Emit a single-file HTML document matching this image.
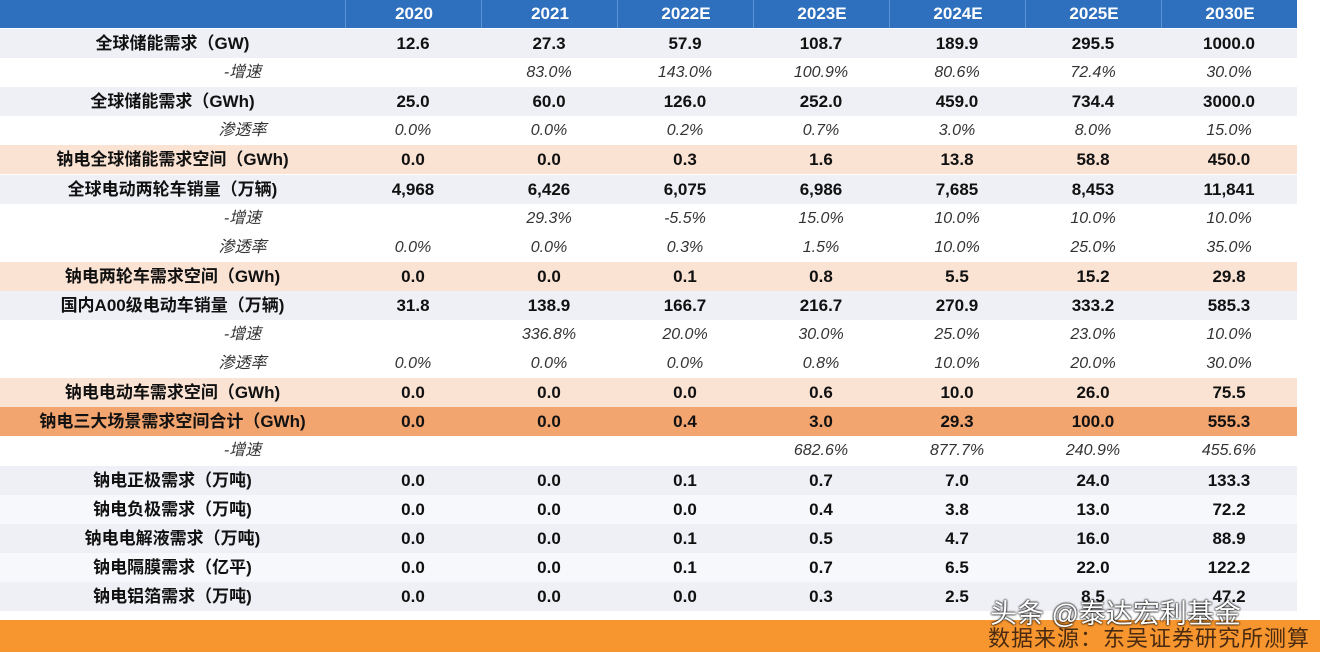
<!DOCTYPE html>
<html><head><meta charset="utf-8">
<style>
body{margin:0;width:1320px;height:654px;background:#fff;overflow:hidden;position:relative;font-family:"Liberation Sans","Noto Sans CJK SC",sans-serif;}
.row{position:absolute;left:0;width:1297px;height:29px;}
.cell{position:absolute;top:0;height:29px;line-height:29px;text-align:center;font-size:17px;color:#111;font-weight:bold;}
.it{font-weight:normal;font-style:italic;color:#333;font-size:16px;}
#hdr{position:absolute;left:0;top:0;width:1297px;height:28px;background:#2e70bd;}
.h{position:absolute;top:0;height:28px;line-height:28px;text-align:center;color:#fff;font-weight:bold;font-size:17px;border-left:1px solid #5b93d3;}
</style></head><body>
<div id="hdr"></div>
<div id="tbl"></div>
<div style="position:absolute;left:0;top:620px;width:1320px;height:32px;background:#f7962f"></div>
<div style="position:absolute;left:988px;top:621px;font-size:22px;color:#4a2a10;letter-spacing:1px">数据来源：东吴证券研究所测算</div>
<div style="position:absolute;left:990px;top:592px;font-size:27px;color:#fff;text-shadow:0 0 2px #000,0 0 2px #000">头条 @泰达宏利基金</div>
<script>
const years=["2020","2021","2022E","2023E","2024E","2025E","2030E"];
const labels=["全球储能需求（GW)","-增速","全球储能需求（GWh)","渗透率","钠电全球储能需求空间（GWh)","全球电动两轮车销量（万辆)","-增速","渗透率","钠电两轮车需求空间（GWh)","国内A00级电动车销量（万辆)","-增速","渗透率","钠电电动车需求空间（GWh)","钠电三大场景需求空间合计（GWh)","-增速","钠电正极需求（万吨)","钠电负极需求（万吨)","钠电电解液需求（万吨)","钠电隔膜需求（亿平)","钠电铝箔需求（万吨)"];
const values=[
["12.6","27.3","57.9","108.7","189.9","295.5","1000.0"],
["","83.0%","143.0%","100.9%","80.6%","72.4%","30.0%"],
["25.0","60.0","126.0","252.0","459.0","734.4","3000.0"],
["0.0%","0.0%","0.2%","0.7%","3.0%","8.0%","15.0%"],
["0.0","0.0","0.3","1.6","13.8","58.8","450.0"],
["4,968","6,426","6,075","6,986","7,685","8,453","11,841"],
["","29.3%","-5.5%","15.0%","10.0%","10.0%","10.0%"],
["0.0%","0.0%","0.3%","1.5%","10.0%","25.0%","35.0%"],
["0.0","0.0","0.1","0.8","5.5","15.2","29.8"],
["31.8","138.9","166.7","216.7","270.9","333.2","585.3"],
["","336.8%","20.0%","30.0%","25.0%","23.0%","10.0%"],
["0.0%","0.0%","0.0%","0.8%","10.0%","20.0%","30.0%"],
["0.0","0.0","0.0","0.6","10.0","26.0","75.5"],
["0.0","0.0","0.4","3.0","29.3","100.0","555.3"],
["","","","682.6%","877.7%","240.9%","455.6%"],
["0.0","0.0","0.1","0.7","7.0","24.0","133.3"],
["0.0","0.0","0.0","0.4","3.8","13.0","72.2"],
["0.0","0.0","0.1","0.5","4.7","16.0","88.9"],
["0.0","0.0","0.1","0.7","6.5","22.0","122.2"],
["0.0","0.0","0.0","0.3","2.5","8.5","47.2"]];
const bgs=["#eef0f6","#fff","#eef0f6","#fff","#fbe3d4","#eef0f6","#fff","#fff","#fbe3d4","#eef0f6","#fff","#fff","#fbe3d4","#f3a56f","#fff","#eef0f6","#f7f8fb","#eef0f6","#f7f8fb","#eef0f6"];
const colX=[345,481,617,753,889,1025,1161,1297];
const hdr=document.getElementById('hdr');
years.forEach((y,i)=>{const d=document.createElement('div');d.className='h';d.style.left=colX[i]+'px';d.style.width=(colX[i+1]-colX[i])+'px';d.textContent=y;


hdr.appendChild(d);});
const tbl=document.getElementById('tbl');
labels.forEach((l,r)=>{const row=document.createElement('div');row.className='row';row.style.top=(29+r*29.1)+'px';row.style.background=bgs[r];


const italic=l.startsWith('-')||l==='渗透率';
const lc=document.createElement('div');lc.className='cell'+(italic?' it':'');lc.style.width='345px';lc.style.left=(italic?70:0)+'px';lc.textContent=l;


row.appendChild(lc);
values[r].forEach((v,c)=>{const d=document.createElement('div');d.className='cell'+(italic?' it':'');d.style.left=colX[c]+'px';d.style.width=(colX[c+1]-colX[c])+'px';d.textContent=v;


row.appendChild(d);});
tbl.appendChild(row);});
</script>
</body></html>
